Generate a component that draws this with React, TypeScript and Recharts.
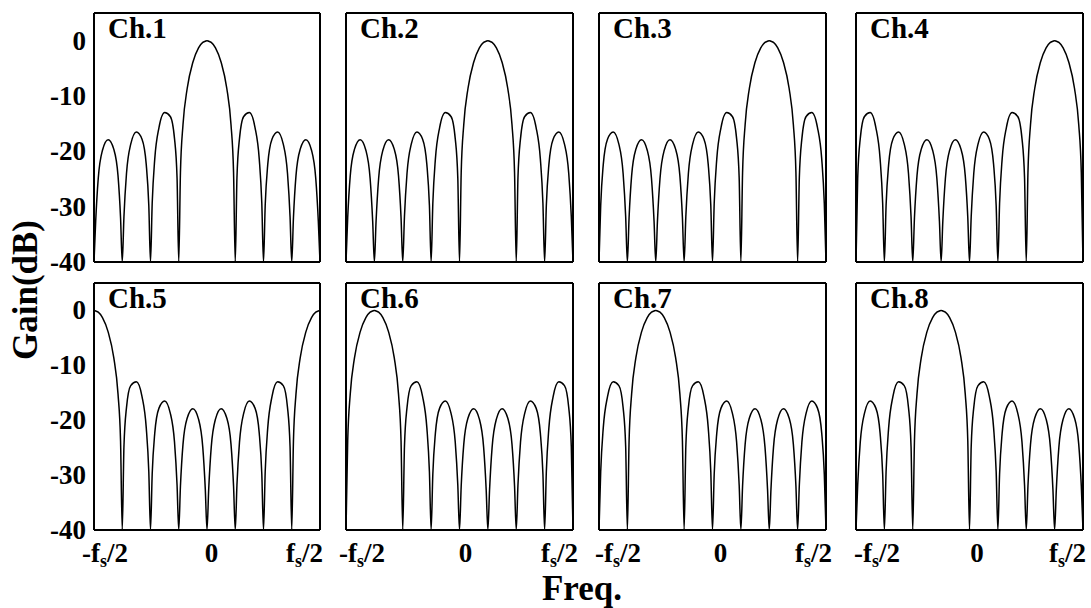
import React from 'react';
import { LineChart, Line, XAxis, YAxis } from 'recharts';

// frequency grid in units of fs/8  (-4 = -fs/2, 4 = fs/2)
const freq = [
  -4, -3.94, -3.85, -3.7, -3.5, -3.3, -3.15, -3.06,
  -3, -2.94, -2.85, -2.7, -2.5, -2.3, -2.15, -2.06,
  -2, -1.94, -1.85, -1.7, -1.5, -1.3, -1.15, -1.06,
  -1, -0.94, -0.85, -0.7, -0.5, -0.3, -0.15, -0.06,
  0, 0.06, 0.15, 0.3, 0.5, 0.7, 0.85, 0.94,
  1, 1.06, 1.15, 1.3, 1.5, 1.7, 1.85, 1.94,
  2, 2.06, 2.15, 2.3, 2.5, 2.7, 2.85, 2.94,
  3, 3.06, 3.15, 3.3, 3.5, 3.7, 3.85, 3.94,
  4,
];

// gain in dB, one array per channel
const ch1 = [
  -40, -32.6, -24.9, -19.8, -17.9, -19.6, -24.4, -32.0,
  -40, -31.8, -24.0, -18.7, -16.5, -17.8, -22.4, -29.8,
  -40, -29.4, -21.4, -15.7, -13.0, -13.7, -17.7, -24.8,
  -40, -23.8, -15.2, -8.6, -3.9, -1.3, -0.3, -0.1,
  0, -0.1, -0.3, -1.3, -3.9, -8.6, -15.2, -23.8,
  -40, -24.8, -17.7, -13.7, -13.0, -15.7, -21.4, -29.4,
  -40, -29.8, -22.4, -17.8, -16.5, -18.7, -24.0, -31.8,
  -40, -32.0, -24.4, -19.6, -17.9, -19.8, -24.9, -32.6,
  -40,
];
const ch2 = [
  -40, -32.0, -24.4, -19.6, -17.9, -19.8, -24.9, -32.6,
  -40, -32.6, -24.9, -19.8, -17.9, -19.6, -24.4, -32.0,
  -40, -31.8, -24.0, -18.7, -16.5, -17.8, -22.4, -29.8,
  -40, -29.4, -21.4, -15.7, -13.0, -13.7, -17.7, -24.8,
  -40, -23.8, -15.2, -8.6, -3.9, -1.3, -0.3, -0.1,
  0, -0.1, -0.3, -1.3, -3.9, -8.6, -15.2, -23.8,
  -40, -24.8, -17.7, -13.7, -13.0, -15.7, -21.4, -29.4,
  -40, -29.8, -22.4, -17.8, -16.5, -18.7, -24.0, -31.8,
  -40,
];
const ch3 = [
  -40, -29.8, -22.4, -17.8, -16.5, -18.7, -24.0, -31.8,
  -40, -32.0, -24.4, -19.6, -17.9, -19.8, -24.9, -32.6,
  -40, -32.6, -24.9, -19.8, -17.9, -19.6, -24.4, -32.0,
  -40, -31.8, -24.0, -18.7, -16.5, -17.8, -22.4, -29.8,
  -40, -29.4, -21.4, -15.7, -13.0, -13.7, -17.7, -24.8,
  -40, -23.8, -15.2, -8.6, -3.9, -1.3, -0.3, -0.1,
  0, -0.1, -0.3, -1.3, -3.9, -8.6, -15.2, -23.8,
  -40, -24.8, -17.7, -13.7, -13.0, -15.7, -21.4, -29.4,
  -40,
];
const ch4 = [
  -40, -24.8, -17.7, -13.7, -13.0, -15.7, -21.4, -29.4,
  -40, -29.8, -22.4, -17.8, -16.5, -18.7, -24.0, -31.8,
  -40, -32.0, -24.4, -19.6, -17.9, -19.8, -24.9, -32.6,
  -40, -32.6, -24.9, -19.8, -17.9, -19.6, -24.4, -32.0,
  -40, -31.8, -24.0, -18.7, -16.5, -17.8, -22.4, -29.8,
  -40, -29.4, -21.4, -15.7, -13.0, -13.7, -17.7, -24.8,
  -40, -23.8, -15.2, -8.6, -3.9, -1.3, -0.3, -0.1,
  0, -0.1, -0.3, -1.3, -3.9, -8.6, -15.2, -23.8,
  -40,
];
const ch5 = [
  0, -0.1, -0.3, -1.3, -3.9, -8.6, -15.2, -23.8,
  -40, -24.8, -17.7, -13.7, -13.0, -15.7, -21.4, -29.4,
  -40, -29.8, -22.4, -17.8, -16.5, -18.7, -24.0, -31.8,
  -40, -32.0, -24.4, -19.6, -17.9, -19.8, -24.9, -32.6,
  -40, -32.6, -24.9, -19.8, -17.9, -19.6, -24.4, -32.0,
  -40, -31.8, -24.0, -18.7, -16.5, -17.8, -22.4, -29.8,
  -40, -29.4, -21.4, -15.7, -13.0, -13.7, -17.7, -24.8,
  -40, -23.8, -15.2, -8.6, -3.9, -1.3, -0.3, -0.1,
  0,
];
const ch6 = [
  -40, -23.8, -15.2, -8.6, -3.9, -1.3, -0.3, -0.1,
  0, -0.1, -0.3, -1.3, -3.9, -8.6, -15.2, -23.8,
  -40, -24.8, -17.7, -13.7, -13.0, -15.7, -21.4, -29.4,
  -40, -29.8, -22.4, -17.8, -16.5, -18.7, -24.0, -31.8,
  -40, -32.0, -24.4, -19.6, -17.9, -19.8, -24.9, -32.6,
  -40, -32.6, -24.9, -19.8, -17.9, -19.6, -24.4, -32.0,
  -40, -31.8, -24.0, -18.7, -16.5, -17.8, -22.4, -29.8,
  -40, -29.4, -21.4, -15.7, -13.0, -13.7, -17.7, -24.8,
  -40,
];
const ch7 = [
  -40, -29.4, -21.4, -15.7, -13.0, -13.7, -17.7, -24.8,
  -40, -23.8, -15.2, -8.6, -3.9, -1.3, -0.3, -0.1,
  0, -0.1, -0.3, -1.3, -3.9, -8.6, -15.2, -23.8,
  -40, -24.8, -17.7, -13.7, -13.0, -15.7, -21.4, -29.4,
  -40, -29.8, -22.4, -17.8, -16.5, -18.7, -24.0, -31.8,
  -40, -32.0, -24.4, -19.6, -17.9, -19.8, -24.9, -32.6,
  -40, -32.6, -24.9, -19.8, -17.9, -19.6, -24.4, -32.0,
  -40, -31.8, -24.0, -18.7, -16.5, -17.8, -22.4, -29.8,
  -40,
];
const ch8 = [
  -40, -31.8, -24.0, -18.7, -16.5, -17.8, -22.4, -29.8,
  -40, -29.4, -21.4, -15.7, -13.0, -13.7, -17.7, -24.8,
  -40, -23.8, -15.2, -8.6, -3.9, -1.3, -0.3, -0.1,
  0, -0.1, -0.3, -1.3, -3.9, -8.6, -15.2, -23.8,
  -40, -24.8, -17.7, -13.7, -13.0, -15.7, -21.4, -29.4,
  -40, -29.8, -22.4, -17.8, -16.5, -18.7, -24.0, -31.8,
  -40, -32.0, -24.4, -19.6, -17.9, -19.8, -24.9, -32.6,
  -40, -32.6, -24.9, -19.8, -17.9, -19.6, -24.4, -32.0,
  -40,
];

const channels = [ch1, ch2, ch3, ch4, ch5, ch6, ch7, ch8];
const channelNames = ['Ch.1', 'Ch.2', 'Ch.3', 'Ch.4', 'Ch.5', 'Ch.6', 'Ch.7', 'Ch.8'];
const yTicks = [-40, -30, -20, -10, 0];
const xTicks = [-4, 0, 4];
// [main, subscript, rest]
const xTickLabels = [['-f', 's', '/2'], ['0', '', ''], ['f', 's', '/2']];

const table = freq.map((f, i) => {
  const row: Record<string, number> = { f };
  channels.forEach((ch, k) => { row['ch' + (k + 1)] = ch[i]; });
  return row;
});

const FONT = '"Liberation Serif", "Times New Roman", serif';
const colLeft = [94, 346, 599, 856];
const colWidth = [226, 227, 227, 227];
const rowTop = [13, 283];
const rowHeight = [249, 247];
const xLabelShift = [[-12, 4.5, 3], [-7, 6, 5], [-4, 8, 6], [-2, 7.5, 3]];

const frame = { stroke: '#000', strokeWidth: 2 };
const tickMark = { stroke: '#000', strokeWidth: 1.5 };

const XTick = (props: any) => {
  const { x, y, index, col } = props;
  const parts = xTickLabels[index];
  const anchor = index === 0 ? 'start' : index === 1 ? 'middle' : 'end';
  return (
    <text x={x + xLabelShift[col][index]} y={y + 24} textAnchor={anchor}
      fontFamily={FONT} fontWeight="bold" fontSize={27} fill="#000">
      {parts[0]}
      {parts[1] && <tspan dy={5} fontSize={18}>{parts[1]}</tspan>}
      {parts[2] && <tspan dy={-5}>{parts[2]}</tspan>}
    </text>
  );
};

const YTick = (props: any) => {
  const { x, y, payload } = props;
  return (
    <text x={x} y={y + 9} textAnchor="end" fontFamily={FONT} fontWeight="bold" fontSize={27} fill="#000">
      {payload.value}
    </text>
  );
};

function Panel({ idx }: { idx: number }) {
  const r = Math.floor(idx / 4);
  const c = idx % 4;
  const W = colWidth[c];
  const H = rowHeight[r];
  const showY = c === 0;
  const showX = r === 1;
  return (
    <div style={{ position: 'absolute', left: colLeft[c] - 80, top: rowTop[r] - 10 }}>
      <LineChart width={W + 90} height={H + 55} data={table}
        margin={{ top: 10, right: 10, left: showY ? 0 : 80, bottom: showX ? 0 : 45 }}>
        <XAxis xAxisId="b" dataKey="f" type="number" domain={[-4, 4]} ticks={xTicks} allowDataOverflow
          orientation="bottom" mirror tick={false} tickSize={4} axisLine={frame} tickLine={tickMark} />
        <XAxis xAxisId="t" dataKey="f" type="number" domain={[-4, 4]} ticks={xTicks} allowDataOverflow
          orientation="top" mirror tick={false} tickSize={4} axisLine={frame} tickLine={tickMark} />
        {showX && (
          <XAxis xAxisId="lab" dataKey="f" type="number" domain={[-4, 4]} ticks={xTicks} allowDataOverflow
            orientation="bottom" height={45} axisLine={false} tickLine={false}
            tick={(p: any) => <XTick {...p} col={c} />} />
        )}
        <YAxis yAxisId="l" type="number" domain={[-40, 5]} ticks={yTicks} allowDataOverflow
          orientation="left" mirror tick={false} tickSize={4} axisLine={frame} tickLine={tickMark} />
        <YAxis yAxisId="r" type="number" domain={[-40, 5]} ticks={yTicks} allowDataOverflow
          orientation="right" mirror tick={false} tickSize={4} axisLine={frame} tickLine={tickMark} />
        {showY && (
          <YAxis yAxisId="lab" type="number" domain={[-40, 5]} ticks={yTicks} allowDataOverflow
            orientation="left" width={80} axisLine={false} tickLine={false} tick={<YTick />} />
        )}
        <Line xAxisId="b" yAxisId="l" dataKey={'ch' + (idx + 1)} type="monotone" stroke="#000"
          strokeWidth={1.5} dot={false} activeDot={false} isAnimationActive={false} />
      </LineChart>
    </div>
  );
}

export default function App() {
  return (
    <div style={{ position: 'absolute', left: 0, top: 0, width: 1091, height: 608, background: '#fff' }}>
      {channelNames.map((_, i) => <Panel key={i} idx={i} />)}
      <svg width={1091} height={608} style={{ position: 'absolute', left: 0, top: 0, pointerEvents: 'none' }}>
        {channelNames.map((name, i) => (
          <text key={name} x={colLeft[i % 4] + 14} y={rowTop[Math.floor(i / 4)] + 25}
            fontFamily={FONT} fontWeight="bold" fontSize={29} fill="#000">{name}</text>
        ))}
        <text x={37} y={290} transform="rotate(-90, 37, 290)" textAnchor="middle"
          fontFamily={FONT} fontWeight="bold" fontSize={35} fill="#000">Gain(dB)</text>
        <text x={582} y={600} textAnchor="middle"
          fontFamily={FONT} fontWeight="bold" fontSize={35} fill="#000">Freq.</text>
      </svg>
    </div>
  );
}
